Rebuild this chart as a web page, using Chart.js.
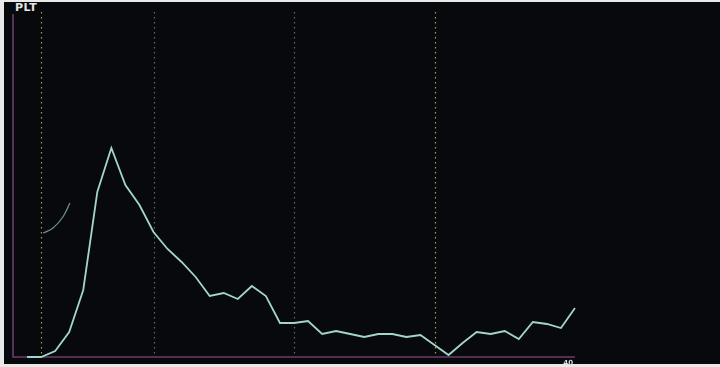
<!DOCTYPE html>
<html>
<head>
<meta charset="utf-8">
<style>
	html, body { margin: 0; padding: 0; background: #e9e9e9; }
	.frame { position: relative; width: 720px; height: 367px; overflow: hidden; }
	.screen { position: absolute; left: 4px; top: 2px; right: 0; bottom: 3px; background: #07090c; }
	.title { position: absolute; left: 15px; top: 1px; color: #e4e4e4; font: bold 11px "DejaVu Sans", sans-serif; letter-spacing: 0.5px; }
	#graf { position: absolute; left: 0; top: 0; }
</style>
</head>
<body>
<div class="frame">
	<div class="screen"></div>
	<div class="title">PLT</div>
	<canvas id="graf" width="720" height="367"></canvas>
</div>
<script src="https://cdn.jsdelivr.net/npm/chart.js"></script>
<script>
	// histogram channels (fL) and counts
	const channels = [1, 2, 3, 4, 5, 6, 7, 8, 9, 10, 11, 12, 13, 14, 15, 16, 17, 18, 19, 20,
		21, 22, 23, 24, 25, 26, 27, 28, 29, 30, 31, 32, 33, 34, 35, 36, 37, 38, 39, 40];
	const counts = [0, 0, 6, 25, 67, 165, 209, 172, 152, 125, 108, 95, 80, 61, 64, 58, 71, 61, 34, 34,
		36, 23, 26, 23, 20, 23, 23, 20, 22, 12, 2, 14, 25, 23, 26, 18, 35, 33, 29, 49];
	// small threshold curve near the lower discriminator
	const curveX = [2.15, 2.85, 3.55, 4.05];
	const curveY = [124, 129, 140, 154];
	// discriminator lines
	const markers = [2, 10, 20, 30];
	const markerColors = ["#9aa93a", "#66696c", "#66696c", "#9aa93a"];
	const axisLabel = "40";

	const histoDeco = {
		id: "histoDeco",
		beforeDatasetsDraw(chart) {
			const { ctx, chartArea, scales } = chart;
			ctx.save();
			ctx.lineWidth = 1.2;
			ctx.setLineDash([1.5, 3.5]);
			markers.forEach((m, i) => {
				const x = Math.round(scales.x.getPixelForValue(m)) + 0.5;
				ctx.strokeStyle = markerColors[i];
				ctx.beginPath();
				ctx.moveTo(x, chartArea.top - 2);
				ctx.lineTo(x, chartArea.bottom);
				ctx.stroke();
			});
			ctx.setLineDash([]);
			ctx.strokeStyle = "#6b3b6f";
			ctx.lineWidth = 1.6;
			ctx.beginPath();
			ctx.moveTo(chartArea.left, chartArea.top);
			ctx.lineTo(chartArea.left, chartArea.bottom);
			ctx.lineTo(chartArea.right, chartArea.bottom);
			ctx.stroke();
			ctx.fillStyle = "#d8dcdc";
			ctx.font = "bold 7px 'DejaVu Sans', sans-serif";
			ctx.textAlign = "right";
			ctx.textBaseline = "top";
			ctx.fillText(axisLabel, scales.x.getPixelForValue(40) - 2, chartArea.bottom + 3);
			ctx.restore();
		},
	};

	new Chart(document.getElementById("graf"), {
		type: "line",
		data: {
			datasets: [
				{
					data: channels.map((c, i) => ({ x: c, y: counts[i] })),
					borderColor: "#a2d6cd",
					borderWidth: 1.8,
					pointRadius: 0,
					tension: 0,
					fill: false,
					clip: false,
				},
				{
					data: curveX.map((c, i) => ({ x: c, y: curveY[i] })),
					borderColor: "#6f8e8c",
					borderWidth: 1.3,
					pointRadius: 0,
					tension: 0.4,
					fill: false,
					clip: false,
				},
			],
		},
		options: {
			responsive: false,
			animation: false,
			events: [],
			layout: { padding: { left: 13, top: 14, right: 145, bottom: 10 } },
			plugins: { legend: { display: false }, tooltip: { enabled: false } },
			scales: {
				x: { type: "linear", min: 0, max: 40, display: false },
				y: { type: "linear", min: 0, max: 343, display: false },
			},
		},
		plugins: [histoDeco],
	});
</script>
</body>
</html>
